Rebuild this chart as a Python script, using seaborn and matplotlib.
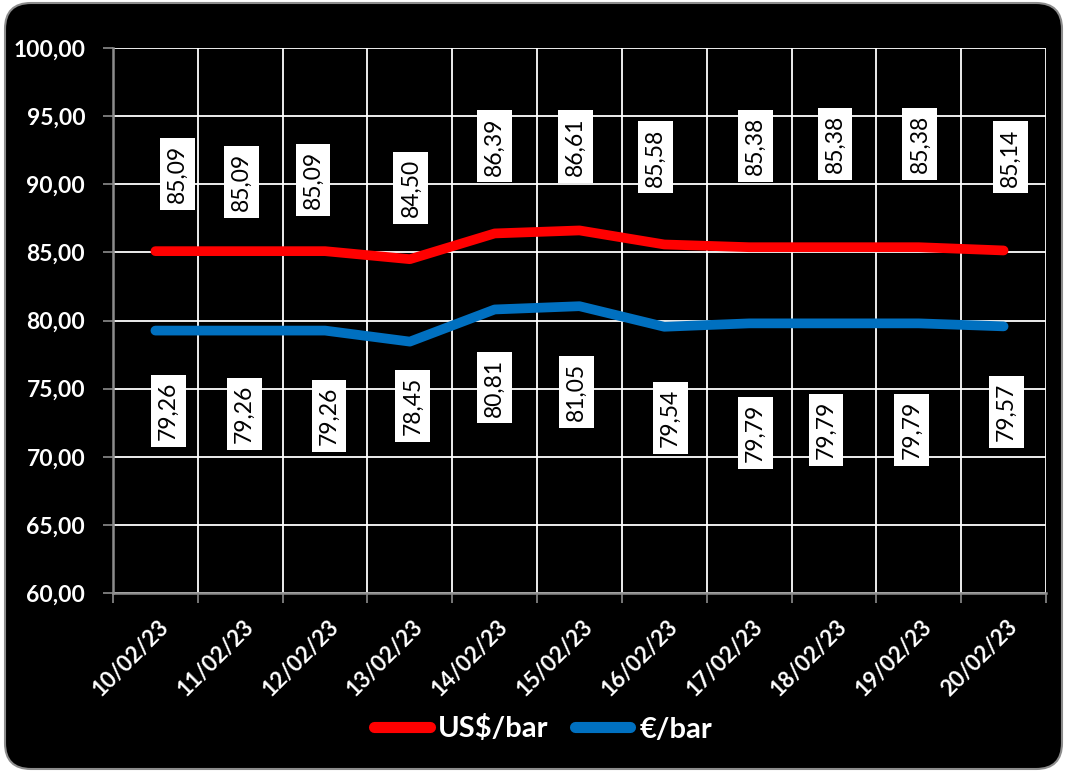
import numpy as np
import pandas as pd
import matplotlib
matplotlib.use("Agg")
import matplotlib.pyplot as plt
import matplotlib.transforms as mtransforms
from matplotlib.patches import FancyBboxPatch
import seaborn as sns

# ---- data ----
dates = ["10/02/23", "11/02/23", "12/02/23", "13/02/23", "14/02/23", "15/02/23",
         "16/02/23", "17/02/23", "18/02/23", "19/02/23", "20/02/23"]
usd_bar = [85.09, 85.09, 85.09, 84.50, 86.39, 86.61, 85.58, 85.38, 85.38, 85.38, 85.14]
eur_bar = [79.26, 79.26, 79.26, 78.45, 80.81, 81.05, 79.54, 79.79, 79.79, 79.79, 79.57]
series_names = ["US$/bar", "€/bar"]
y_ticks = [60, 65, 70, 75, 80, 85, 90, 95, 100]

# label placement offsets in pixels (dx, dy; dy positive = downwards)
usd_label_off = [(22, -77), (1, -69), (-12, -71), (1, -71), (0, -87), (-4, -84),
                 (-9, -87), (6, -101), (1, -103), (1, -103), (7, -93)]
eur_label_off = [(13, 80), (4, 83), (4, 85), (3, 64), (0, 78), (-3, 86),
                 (6, 91), (6, 110), (-8, 107), (-7, 107), (3, 86)]

df = pd.DataFrame({
    "date": dates * 2,
    "value": usd_bar + eur_bar,
    "series": [series_names[0]] * len(dates) + [series_names[1]] * len(dates),
})

sns.set_theme(style="dark")
plt.rcParams["font.family"] = ["Lato", "DejaVu Sans"]

W, H = 1067, 772
fig = plt.figure(figsize=(W / 100, H / 100), dpi=100, facecolor="white")

# rounded black chart background
bg = FancyBboxPatch((5, 3), W - 10, H - 6, boxstyle="round,pad=0,rounding_size=26",
                    transform=mtransforms.IdentityTransform(), facecolor="black",
                    edgecolor="#8c8c8c", linewidth=1.5, zorder=-10)
fig.patches.append(bg)

ax = fig.add_axes([113 / W, (H - 593) / H, (1046 - 113) / W, (593 - 48) / H])
ax.set_facecolor("black")
ax.set_zorder(1)

palette = {series_names[0]: "#FF0000", series_names[1]: "#0070C0"}
sns.lineplot(data=df, x="date", y="value", hue="series", palette=palette,
             linewidth=7, sort=False, ax=ax, zorder=3,
             solid_capstyle="round", solid_joinstyle="round")

n = len(dates)
ax.set_xlim(-0.5, n - 0.5)
ax.set_ylim(60, 100)

# y axis
ax.set_yticks(y_ticks)
ax.set_yticklabels([f"{v:.2f}".replace(".", ",") for v in y_ticks],
                   fontsize=16.5, fontweight="bold", color="white")
ax.tick_params(axis="y", which="major", length=7, width=1.2, color="#8c8c8c",
               direction="out", pad=13, left=True)

# x axis: boundaries as major (grid + tick marks), centers as minor (labels)
ax.set_xticks(np.arange(-0.5, n, 1.0))
ax.set_xticklabels([])
ax.set_xticks(np.arange(n), minor=True)
ax.set_xticklabels(dates, minor=True, rotation=45, ha="right",
                   rotation_mode="anchor", va="center",
                   fontsize=16, fontweight="bold", color="white")
ax.tick_params(axis="x", which="major", length=7, width=1.2, color="#8c8c8c",
               direction="out", bottom=True)
ax.tick_params(axis="x", which="minor", length=0, pad=22)
offset = mtransforms.ScaledTranslation(10 / 100, 0, fig.dpi_scale_trans)
for lbl in ax.get_xticklabels(minor=True):
    lbl.set_transform(lbl.get_transform() + offset)

ax.grid(True, which="major", color="white", linewidth=1.3)
ax.set_axisbelow(True)
for s in ["top", "right"]:
    ax.spines[s].set_visible(False)
for s in ["left", "bottom"]:
    ax.spines[s].set_visible(True)
    ax.spines[s].set_color("#8c8c8c")
    ax.spines[s].set_linewidth(1.8)
ax.set_xlabel("")
ax.set_ylabel("")

# data labels
def fmt(v):
    return f"{v:.2f}".replace(".", ",")

for vals, offs in ((usd_bar, usd_label_off), (eur_bar, eur_label_off)):
    for i, (v, (dx, dy)) in enumerate(zip(vals, offs)):
        ax.annotate(fmt(v), xy=(i, v), xytext=(dx, -dy), textcoords="offset pixels",
                    rotation=90, ha="center", va="center", fontsize=16.5,
                    color="black", zorder=5,
                    bbox=dict(boxstyle="square,pad=0.3", fc="white", ec="none"))

# legend
handles, labels = ax.get_legend_handles_labels()
ax.get_legend().remove()
leg = fig.legend(handles, labels, loc="center", bbox_to_anchor=(543 / W, (H - 729) / H),
                 ncol=2, frameon=False, fontsize=21, handlelength=1.9,
                 handletextpad=0.3, columnspacing=0.9)
for t in leg.get_texts():
    t.set_color("white")
    t.set_fontweight("bold")
for h in leg.get_lines():
    h.set_linewidth(8)
    h.set_solid_capstyle("round")

fig.savefig("out.png", dpi=100, facecolor="white")
